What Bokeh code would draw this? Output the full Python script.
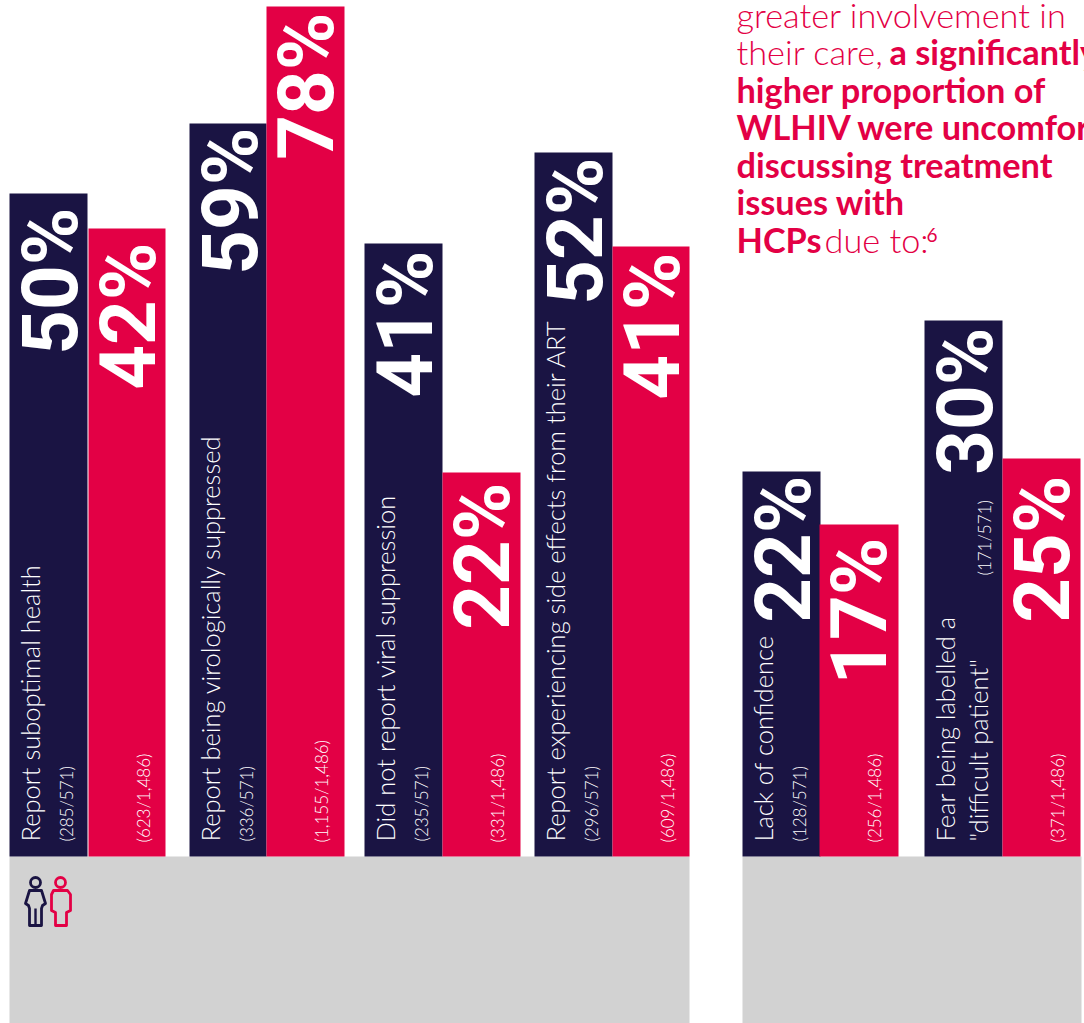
from bokeh.plotting import figure
from bokeh.models import Range1d
from bokeh.core.properties import value
from bokeh.embed import file_html
from bokeh.resources import INLINE
from math import pi

NAVY = "#1a1443"
RED = "#e30045"
GREY = "#d2d2d2"

# ---- data ----
women_pct = ["50%", "59%", "41%", "52%", "22%", "30%"]
men_pct = ["42%", "78%", "22%", "41%", "17%", "25%"]
women_n = ["(285/571)", "(336/571)", "(235/571)", "(296/571)", "(128/571)", "(171/571)"]
men_n = ["(623/1,486)", "(1,155/1,486)", "(331/1,486)", "(609/1,486)", "(256/1,486)", "(371/1,486)"]
women_height = [663, 733, 613, 704, 385, 536]
men_height = [628, 850, 384, 610, 332, 398]
categories = [
    ["Report suboptimal health"],
    ["Report being virologically suppressed"],
    ["Did not report viral suppression"],
    ["Report experiencing side effects from their ART"],
    ["Lack of confidence"],
    ["Fear being labelled a", "\"difficult patient\""],
]

# ---- layout ----
women_left = [9, 189, 364, 534, 742, 924]
men_left = [88, 266, 442, 612, 819, 1002]
women_right = [87, 266, 442, 612, 820, 1002]
men_right = [165, 344, 520, 689, 898, 1080]
women_pct_end = [649, 729, 606, 699, 381, 529]
men_pct_end = [614, 844, 374, 604, 319, 381]
BASE = 856

p = figure(width=1084, height=1023, x_range=Range1d(0, 1084), y_range=Range1d(-167, 856),
           output_backend="svg", toolbar_location=None, min_border=0,
           background_fill_color="white", border_fill_color="white", outline_line_color=None)
p.axis.visible = False
p.grid.visible = False

p.quad(left=[9, 742], right=[689, 1081], bottom=[-167, -167], top=[0, 0],
       fill_color=GREY, line_color=None)
p.quad(left=women_left, right=women_right, bottom=0, top=women_height, fill_color=NAVY, line_color=None)
p.quad(left=men_left, right=men_right, bottom=0, top=men_height, fill_color=RED, line_color=None)

def rot(x, y, t, size, bold=False, align="left", font="Lato"):
    p.text(x=[x], y=[y], text=[t], angle=pi / 2, text_color="white",
           text_font=value(font), text_font_size=f"{size}px",
           text_font_style="bold" if bold else "normal",
           text_align=align, text_baseline="middle")

for i in range(6):
    rot(women_left[i] + 41, women_pct_end[i], women_pct[i], 78, True, "right", "Roboto")
    rot(men_left[i] + 40, men_pct_end[i], men_pct[i], 78, True, "right", "Roboto")
    lines = categories[i]
    rot(women_left[i] + 20, 15, lines[0], 25.5, font="Lato Light")
    if len(lines) == 2:
        rot(women_left[i] + 53, 15, lines[1], 25.5, font="Lato Light")
        rot(women_left[i] + 60, 281, women_n[i], 17, font="Lato Light")
    else:
        rot(women_left[i] + 57, 15, women_n[i], 17, font="Lato Light")
    rot(men_left[i] + 55, 14, men_n[i], 17, font="Lato Light")

# headline
def head(x, ypx, t, bold=False, size=34.3, font="Lato"):
    p.text(x=[x], y=[BASE - ypx], text=[t], text_color=RED, text_font=value(font),
           text_font_size=f"{size}px", text_font_style="bold" if bold else "normal",
           text_align="left", text_baseline="middle")

head(736, 14, "greater involvement in", font="Lato Light")
head(736, 51, "their care,", font="Lato Light")
head(889, 51, "a significantly", True)
head(736, 89, "higher proportion of", True)
head(736, 126, "WLHIV were uncomfortable", True)
head(736, 164, "discussing treatment", True)
head(736, 201, "issues with", True)
head(736, 239, "HCPs", True)
head(824, 239, "due to:", font="Lato Light")
head(926, 234, "6", size=19, font="Lato")

# icons
p.scatter(x=[35, 60], y=[BASE - 882, BASE - 882], size=10, marker="circle", fill_color=None,
          line_color=[NAVY, RED], line_width=2.8)
wx = [29, 41, 45, 42, 41, 41, 29, 29, 28, 25]
wy = [890, 890, 903, 905, 908, 925, 925, 908, 905, 903]
p.patch(x=wx, y=[BASE - v for v in wy], fill_color=None, line_color=NAVY, line_width=2.8, line_join="round")
p.line(x=[35, 35], y=[BASE - 908, BASE - 925], line_color=NAVY, line_width=2.4)
mx = [53, 67, 70, 70, 66, 66, 55, 55, 51, 51]
my = [890, 890, 894, 910, 912, 925, 925, 912, 910, 894]
p.patch(x=mx, y=[BASE - v for v in my], fill_color=None, line_color=RED, line_width=2.8, line_join="round")

open("out.html", "w").write(file_html(p, INLINE))
